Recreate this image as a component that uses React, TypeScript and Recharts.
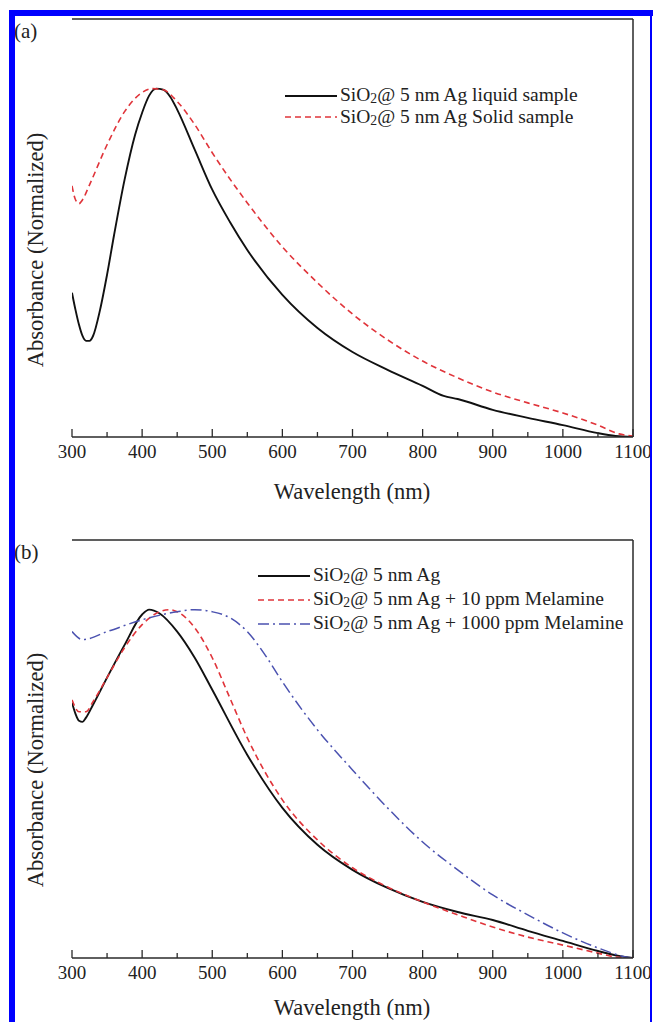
import React from "react";
import { LineChart, Line, XAxis, YAxis, ReferenceLine } from "recharts";

// wavelength axis
const wavelengthTicks = [300, 350, 400, 450, 500, 550, 600, 650, 700, 750, 800, 850, 900, 950, 1000, 1050, 1100];

// panel (a)
const liquidX = [300, 305, 310, 315, 320, 325, 330, 340, 350, 360, 375, 390, 400, 410, 420, 430, 440, 450, 475, 500, 525, 550, 600, 650, 700, 750, 800, 830, 850, 900, 950, 1000, 1050, 1075, 1100];
const liquidY = [0.414, 0.365, 0.322, 0.29, 0.276, 0.276, 0.29, 0.365, 0.466, 0.58, 0.739, 0.868, 0.931, 0.98, 1.0, 0.997, 0.977, 0.94, 0.825, 0.71, 0.618, 0.537, 0.408, 0.313, 0.244, 0.193, 0.147, 0.118, 0.109, 0.078, 0.055, 0.034, 0.011, 0.003, 0.0];

const solidX = [300, 305, 310, 315, 325, 350, 375, 400, 415, 430, 450, 475, 500, 550, 600, 650, 700, 750, 800, 850, 900, 950, 1000, 1050, 1080, 1100];
const solidY = [0.721, 0.681, 0.67, 0.681, 0.724, 0.839, 0.934, 0.989, 1.0, 0.997, 0.963, 0.897, 0.816, 0.672, 0.546, 0.443, 0.353, 0.279, 0.218, 0.17, 0.129, 0.098, 0.069, 0.034, 0.009, 0.003];

// panel (b)
const agX = [300, 305, 310, 315, 320, 330, 350, 375, 400, 410, 425, 450, 475, 500, 550, 600, 650, 700, 750, 800, 850, 900, 950, 1000, 1050, 1080, 1100];
const agY = [0.733, 0.701, 0.681, 0.678, 0.69, 0.727, 0.805, 0.899, 0.986, 1.0, 0.989, 0.937, 0.862, 0.77, 0.583, 0.431, 0.325, 0.253, 0.201, 0.161, 0.132, 0.109, 0.078, 0.049, 0.02, 0.006, 0.0];

const mel10X = [300, 310, 320, 330, 350, 375, 400, 425, 440, 450, 475, 500, 525, 550, 600, 650, 700, 750, 800, 850, 900, 950, 1000, 1050, 1075, 1100];
const mel10Y = [0.741, 0.707, 0.707, 0.736, 0.805, 0.891, 0.957, 0.994, 1.0, 0.994, 0.948, 0.862, 0.747, 0.632, 0.454, 0.339, 0.259, 0.204, 0.161, 0.124, 0.089, 0.06, 0.037, 0.014, 0.003, 0.0];

const mel1000X = [300, 315, 350, 400, 450, 475, 500, 525, 550, 575, 600, 650, 700, 750, 800, 850, 900, 950, 1000, 1050, 1090, 1100];
const mel1000Y = [0.937, 0.914, 0.937, 0.971, 0.994, 1.0, 0.994, 0.977, 0.937, 0.871, 0.793, 0.655, 0.54, 0.431, 0.333, 0.253, 0.181, 0.124, 0.072, 0.029, 0.003, 0.0];

const toPoints = (xs: number[], ys: number[]) => xs.map((x, i) => ({ x, y: ys[i] }));

const serif = "'Liberation Serif', 'DejaVu Serif', serif";
const frameColor = "#2a2a2a";

type Series = { name: string; points: { x: number; y: number }[]; color: string; dash?: string; width: number };

const panelA: Series[] = [
  { name: "5 nm Ag liquid sample", points: toPoints(liquidX, liquidY), color: "#111", width: 1.9 },
  { name: "5 nm Ag Solid sample", points: toPoints(solidX, solidY), color: "#e0343a", dash: "6 4", width: 1.6 },
];

const panelB: Series[] = [
  { name: "5 nm Ag", points: toPoints(agX, agY), color: "#111", width: 1.9 },
  { name: "5 nm Ag + 10 ppm Melamine", points: toPoints(mel10X, mel10Y), color: "#e0343a", dash: "6 4", width: 1.6 },
  { name: "5 nm Ag + 1000 ppm Melamine", points: toPoints(mel1000X, mel1000Y), color: "#4b52b0", dash: "11 4 2 4", width: 1.5 },
];

function WaveTick(props: any) {
  const { x, y, payload } = props;
  const major = payload.value % 100 === 0;
  return (
    <g>
      <line x1={x} y1={y} x2={x} y2={y - (major ? 8 : 5)} stroke={frameColor} strokeWidth={1.3} />
      {major && (
        <text x={x} y={y + 21} textAnchor="middle" fontFamily={serif} fontSize={19} fill="#222">
          {payload.value}
        </text>
      )}
    </g>
  );
}

function Panel({ series, height, top, bottomGap }: { series: Series[]; height: number; top: number; bottomGap: number }) {
  const frame = { stroke: frameColor, strokeWidth: 1.5 };
  return (
    <LineChart width={653} height={height} margin={{ top, right: 20, bottom: bottomGap, left: 72 }}>
      <XAxis
        dataKey="x"
        type="number"
        domain={[300, 1100]}
        ticks={wavelengthTicks}
        interval={0}
        tickSize={0}
        tickMargin={0}
        tick={<WaveTick />}
        height={30}
        allowDataOverflow
        axisLine={frame}
      />
      <YAxis type="number" domain={[0, 1.2]} width={0} tick={false} tickLine={false} axisLine={frame} allowDataOverflow />
      {/* box frame: top and right edges */}
      <ReferenceLine y={1.2} stroke={frameColor} strokeWidth={1.5} />
      <ReferenceLine x={1100} stroke={frameColor} strokeWidth={1.5} />
      {series.map((s) => (
        <Line
          key={s.name}
          data={s.points}
          dataKey="y"
          type="monotone"
          stroke={s.color}
          strokeWidth={s.width}
          strokeDasharray={s.dash}
          dot={false}
          activeDot={false}
          isAnimationActive={false}
        />
      ))}
    </LineChart>
  );
}

function LegendBox({ series, left, top, rowH }: { series: Series[]; left: number; top: number; rowH: number }) {
  return (
    <div style={{ position: "absolute", left, top, fontFamily: serif, fontSize: 19.5, color: "#222", lineHeight: `${rowH}px` }}>
      {series.map((s) => (
        <div key={s.name} style={{ display: "flex", alignItems: "center", whiteSpace: "nowrap", height: rowH }}>
          <svg width={52} height={10} style={{ marginRight: 3 }}>
            <line x1={0} y1={5} x2={52} y2={5} stroke={s.color} strokeWidth={s.width} strokeDasharray={s.dash} />
          </svg>
          <span>
            SiO<span style={{ fontSize: "0.7em", position: "relative", top: 2 }}>2</span>@ {s.name}
          </span>
        </div>
      ))}
    </div>
  );
}

const textStyle: React.CSSProperties = { position: "absolute", fontFamily: serif, color: "#222", whiteSpace: "nowrap" };

function YLabel({ cy }: { cy: number }) {
  return (
    <div style={{ ...textStyle, left: 36, top: cy, fontSize: 22.5, transform: "translate(-50%, -50%) rotate(-90deg)" }}>
      Absorbance (Normalized)
    </div>
  );
}

function XLabel({ cy }: { cy: number }) {
  return (
    <div style={{ ...textStyle, left: 352, top: cy, fontSize: 22.5, lineHeight: "24px", transform: "translate(-50%, -50%)" }}>
      Wavelength (nm)
    </div>
  );
}

export default function App() {
  return (
    <div style={{ position: "absolute", left: 0, top: 0, width: 653, height: 1022, background: "#fff", overflow: "hidden" }}>
      <div style={{ position: "absolute", left: 0, top: 0 }}>
        <Panel series={panelA} height={520} top={19} bottomGap={53} />
      </div>
      <div style={{ position: "absolute", left: 0, top: 520 }}>
        <Panel series={panelB} height={502} top={20} bottomGap={34} />
      </div>

      <div style={{ ...textStyle, left: 14, top: 19, fontSize: 21 }}>(a)</div>
      <div style={{ ...textStyle, left: 14, top: 540, fontSize: 21 }}>(b)</div>

      <YLabel cy={250} />
      <YLabel cy={770} />
      <XLabel cy={492} />
      <XLabel cy={1008} />

      <LegendBox series={panelA} left={285} top={85} rowH={21.5} />
      <LegendBox series={panelB} left={258} top={564} rowH={24} />

      {/* blue selection frame */}
      <div style={{ position: "absolute", left: 9, top: 10, width: 6, height: 1012, background: "#0000ff" }} />
      <div style={{ position: "absolute", left: 9, top: 10, width: 644, height: 6, background: "#0000ff" }} />
      <div style={{ position: "absolute", left: 650, top: 10, width: 2, height: 1012, background: "#0000ff" }} />
    </div>
  );
}
